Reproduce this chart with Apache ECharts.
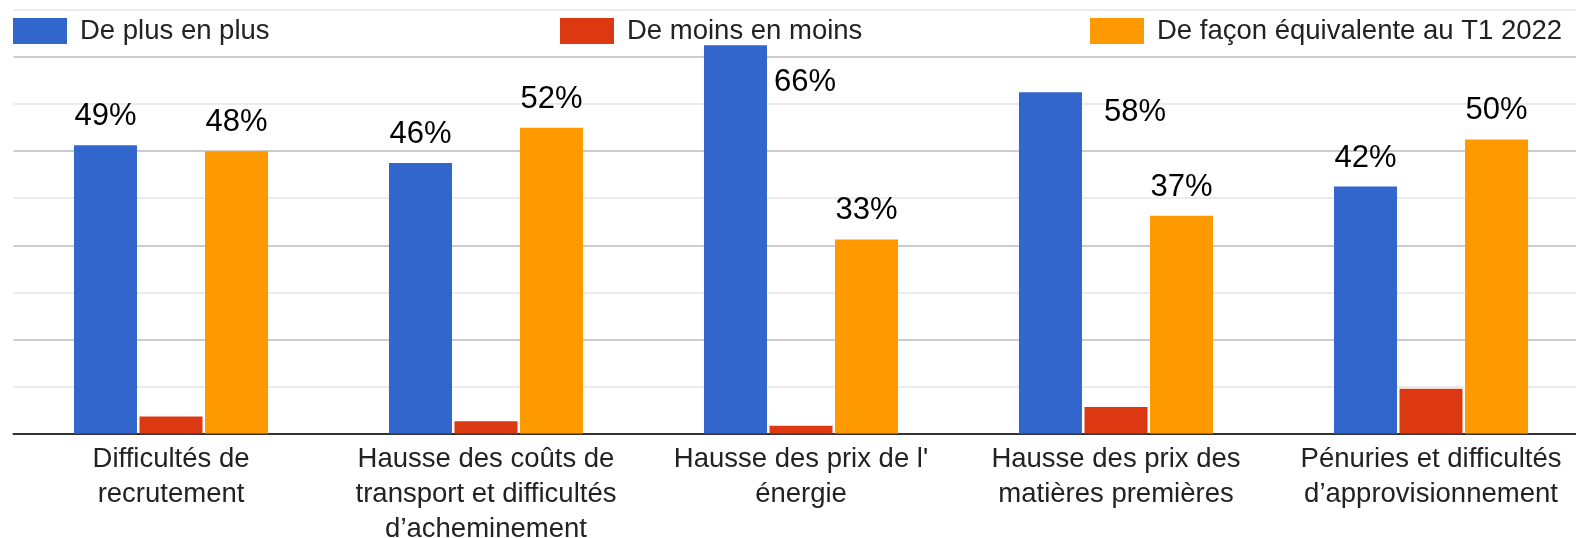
<!DOCTYPE html>
<html>
<head>
<meta charset="utf-8">
<script src="https://cdn.jsdelivr.net/npm/echarts@6/dist/echarts.min.js"></script>
<style>
  html, body { margin: 0; padding: 0; background: #fff; }
  #chart { width: 1576px; height: 538px; }
</style>
</head>
<body>
<div id="chart"></div>
<script>
const categories = [
  'Difficultés de\nrecrutement',
  'Hausse des coûts de\ntransport et difficultés\nd’acheminement',
  "Hausse des prix de l'\nénergie",
  'Hausse des prix des\nmatières premières',
  'Pénuries et difficultés\nd’approvisionnement'
]
const seriesNames = ['De plus en plus', 'De moins en moins', 'De façon équivalente au T1 2022']
const plusValues = [49, 46, 66, 58, 42]
const moinsValues = [2.9, 2.1, 1.3, 4.5, 7.6]
const equivValues = [48, 52, 33, 37, 50]
const colors = ['#3366cc', '#dc3912', '#ff9900']

const FONT = "'Liberation Sans', Arial, sans-serif"

// labels Google moved beside the bar instead of above it
const sideLabels = {
  2: { position: ['100%', 37], offset: [7, 0] },
  3: { position: ['100%', 20], offset: [22, 0] }
}

const valueLabel = {
  show: true,
  position: 'top',
  distance: 13,
  formatter: p => p.value + '%',
  color: '#000',
  fontSize: 31,
  fontFamily: FONT
}

const plusData = plusValues.map((v, i) => {
  const side = sideLabels[i]
  if (!side) return v
  return {
    value: v,
    label: { position: side.position, offset: side.offset, align: 'left', verticalAlign: 'middle' }
  }
})

const legendLefts = [13, 560, 1090]
const legends = seriesNames.map((name, i) => ({
  data: [name],
  left: legendLefts[i],
  top: 17,
  padding: 0,
  itemWidth: 54,
  itemHeight: 26,
  icon: 'rect',
  selectedMode: false,
  textStyle: { fontSize: 27.5, color: '#222', fontFamily: FONT, padding: [0, 0, 0, 8] }
}))

const chart = echarts.init(document.getElementById('chart'))
chart.setOption({
  animation: false,
  color: colors,
  legend: legends,
  grid: {
    left: 13.5,
    right: -12.5,
    top: 10,
    bottom: 104.5,
    outerBoundsMode: 'none'
  },
  xAxis: {
    type: 'category',
    data: categories,
    axisTick: { show: false },
    axisLine: { lineStyle: { color: '#333', width: 2 } },
    axisLabel: {
      interval: 0,
      margin: 8,
      fontSize: 27.5,
      lineHeight: 35,
      color: '#222',
      fontFamily: FONT
    }
  },
  yAxis: {
    type: 'value',
    min: 0,
    max: 72,
    interval: 8,
    axisLabel: { show: false },
    axisLine: { show: false },
    axisTick: { show: false },
    splitLine: { lineStyle: { color: ['#cccccc', '#ebebeb'], width: 2 } }
  },
  series: [
    {
      name: seriesNames[0],
      type: 'bar',
      data: plusData,
      barWidth: 63,
      barGap: '4%',
      label: valueLabel
    },
    {
      name: seriesNames[1],
      type: 'bar',
      data: moinsValues,
      barWidth: 63,
      barGap: '4%'
    },
    {
      name: seriesNames[2],
      type: 'bar',
      data: equivValues,
      barWidth: 63,
      barGap: '4%',
      label: valueLabel
    }
  ]
})
</script>
</body>
</html>
